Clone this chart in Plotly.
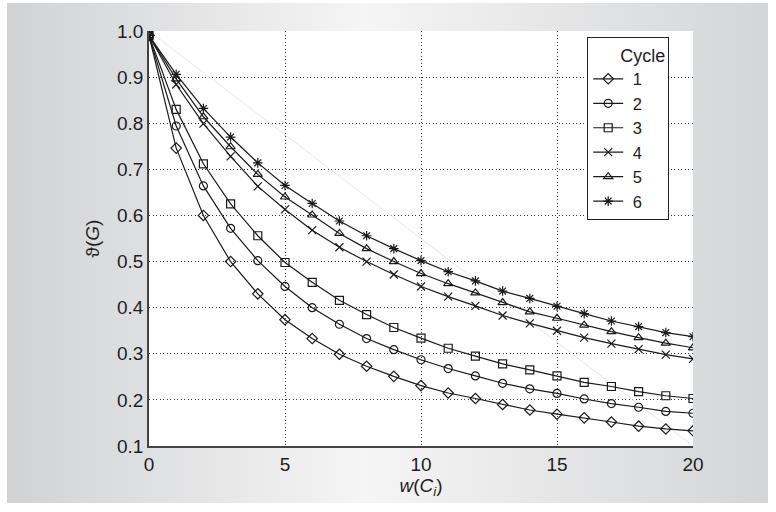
import base64
import plotly.graph_objects as go

# ---- data ----
x_vals = list(range(0, 21))
cycle_names = ["1", "2", "3", "4", "5", "6"]
cycle1 = [0.99, 0.746, 0.600, 0.500, 0.430, 0.374, 0.333, 0.299, 0.273, 0.251, 0.231,
          0.215, 0.203, 0.190, 0.178, 0.169, 0.161, 0.152, 0.143, 0.137, 0.133]
cycle2 = [0.99, 0.794, 0.664, 0.572, 0.502, 0.446, 0.400, 0.364, 0.333, 0.309, 0.287,
          0.268, 0.252, 0.236, 0.224, 0.214, 0.202, 0.192, 0.184, 0.175, 0.171]
cycle3 = [0.99, 0.830, 0.712, 0.625, 0.556, 0.498, 0.455, 0.416, 0.385, 0.357, 0.334,
          0.312, 0.295, 0.278, 0.265, 0.252, 0.238, 0.229, 0.218, 0.209, 0.203]
cycle4 = [0.99, 0.884, 0.799, 0.728, 0.663, 0.613, 0.568, 0.531, 0.500, 0.472, 0.446,
          0.424, 0.404, 0.383, 0.366, 0.350, 0.335, 0.322, 0.310, 0.298, 0.289]
cycle5 = [0.99, 0.896, 0.814, 0.749, 0.689, 0.640, 0.601, 0.561, 0.528, 0.500, 0.474,
          0.452, 0.432, 0.411, 0.391, 0.377, 0.362, 0.348, 0.335, 0.323, 0.313]
cycle6 = [0.99, 0.906, 0.832, 0.770, 0.714, 0.665, 0.626, 0.588, 0.556, 0.528, 0.502,
          0.478, 0.458, 0.436, 0.420, 0.403, 0.387, 0.371, 0.359, 0.346, 0.337]
series = [cycle1, cycle2, cycle3, cycle4, cycle5, cycle6]
symbols = ["diamond-open", "circle-open", "square-open", "x-thin-open",
           "triangle-up-open", "asterisk-open"]
x_ticks = [0, 5, 10, 15, 20]
y_ticks = [0.1, 0.2, 0.3, 0.4, 0.5, 0.6, 0.7, 0.8, 0.9, 1.0]
X_RANGE = [0, 20]
Y_RANGE = [0.1, 1.0]

FONT = "Liberation Sans, Arial, sans-serif"
INK = "#1e1e1e"
NB = "\u00a0"

fig = go.Figure()

# faint diagonal artefact line
fig.add_trace(go.Scatter(x=[X_RANGE[0], X_RANGE[1]], y=[Y_RANGE[1], Y_RANGE[0]],
                         mode="lines", line=dict(color="#e6e6e6", width=1),
                         showlegend=False, hoverinfo="skip"))

for name, ys, sym in zip(cycle_names, series, symbols):
    fig.add_trace(go.Scatter(
        x=x_vals, y=ys, name=NB + name, mode="lines+markers",
        line=dict(color="#1a1a1a", width=1.2),
        marker=dict(symbol=sym, size=8, color="#1a1a1a",
                    line=dict(width=1.2, color="#1a1a1a")),
    ))

# background gradient (SVG data URI)
svg = ('<svg xmlns="http://www.w3.org/2000/svg" width="100" height="100" preserveAspectRatio="none">'
       '<defs><linearGradient id="g" x1="0" y1="0" x2="1" y2="0">'
       '<stop offset="0" stop-color="#d1d2d4"/>'
       '<stop offset="0.47" stop-color="#f5f5f5"/>'
       '<stop offset="1" stop-color="#d4d5d7"/>'
       '</linearGradient></defs>'
       '<rect width="100" height="100" fill="url(#g)"/></svg>')
src = "data:image/svg+xml;base64," + base64.b64encode(svg.encode()).decode()

W, H = 776, 512
L, R, T, B = 149, 83, 31, 66
pw, ph = W - L - R, H - T - B
bx0, bx1, by0, by1 = 7, 768, 3, 503
fig.add_layout_image(dict(
    source=src, xref="paper", yref="paper",
    x=(bx0 - L) / pw, y=(H - B - by0) / ph,
    sizex=(bx1 - bx0) / pw, sizey=(by1 - by0) / ph,
    sizing="stretch", xanchor="left", yanchor="top", layer="below"))
# white plot area on top of the gradient
fig.add_shape(type="rect", xref="paper", yref="paper", x0=0, x1=1, y0=0, y1=1,
              fillcolor="white", line=dict(width=0), layer="below")

fig.update_layout(
    width=W, height=H,
    margin=dict(l=L, r=R, t=T, b=B),
    paper_bgcolor="white", plot_bgcolor="white",
    font=dict(family=FONT, size=19, color=INK),
    legend=dict(
        title=dict(text=NB * 6 + "Cycle", font=dict(size=18)),
        x=(587 - L) / pw, y=(H - B - 37) / ph, xanchor="left", yanchor="top",
        bgcolor="white", bordercolor="#222", borderwidth=1.2,
        font=dict(size=16.5), itemwidth=30, tracegroupgap=0,
    ),
    showlegend=True,
)

GRID = dict(showgrid=True, gridcolor="#333", griddash="1px,2.5px", gridwidth=1,
            showline=True, linecolor="#444", linewidth=1.6, zeroline=False,
            ticks="", tickfont=dict(size=19))
fig.update_xaxes(
    range=X_RANGE, tickvals=x_ticks, ticktext=[str(v) for v in x_ticks], **GRID,
    title=dict(text="<i>w</i>(<i>C<sub>i</sub></i>)", standoff=4, font=dict(size=19)),
)
fig.update_yaxes(
    range=Y_RANGE, tickvals=y_ticks, ticktext=[f"{v:.1f}" for v in y_ticks], **GRID,
    title=dict(text="ϑ(<i>G</i>)", standoff=12, font=dict(size=19)),
)

fig.write_html("out.html", config={"displayModeBar": False},
               post_script="document.body.style.margin='0';document.body.style.padding='0';")
